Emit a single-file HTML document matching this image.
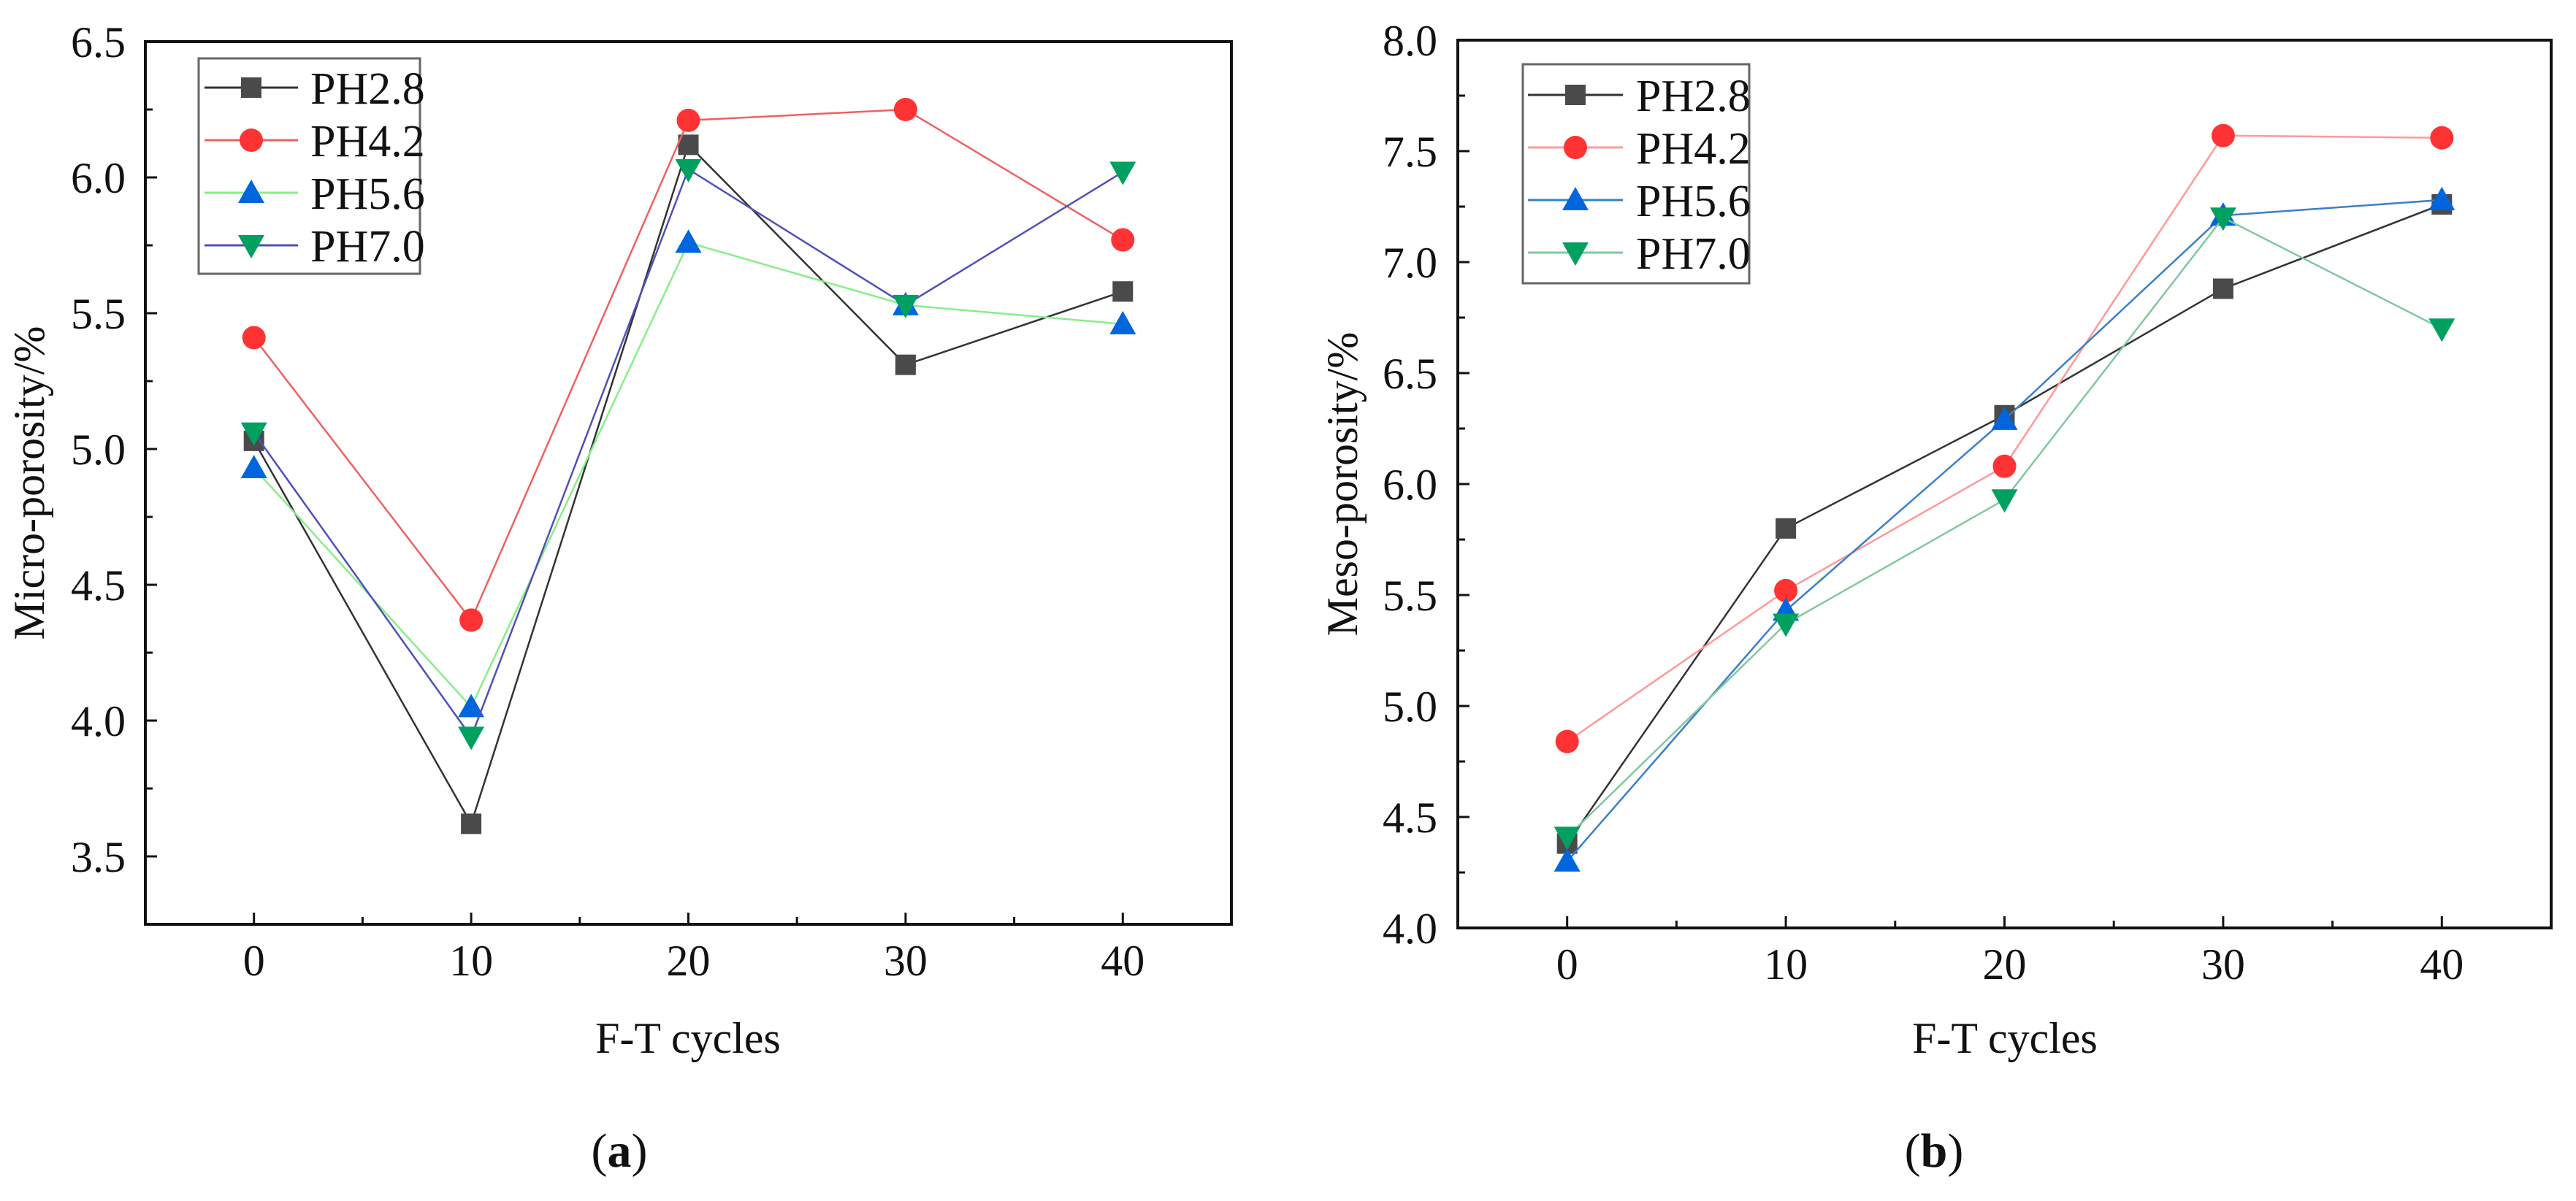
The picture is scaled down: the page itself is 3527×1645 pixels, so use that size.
<!DOCTYPE html>
<html><head><meta charset="utf-8"><style>
html,body{margin:0;padding:0;background:#fff;}
svg{display:block;}
svg text{font-family:"Liberation Serif",serif;}
</style></head><body>
<svg id="svg" width="3527" height="1645" viewBox="0 0 3527 1645" xmlns="http://www.w3.org/2000/svg" font-family="Liberation Serif, serif"></svg>
<script>
const xCats = [0, 10, 20, 30, 40];
const seriesNames = ["PH2.8", "PH4.2", "PH5.6", "PH7.0"];
const microPH28 = [5.03, 3.62, 6.12, 5.31, 5.58];
const microPH42 = [5.41, 4.37, 6.21, 6.25, 5.77];
const microPH56 = [4.93, 4.05, 5.76, 5.53, 5.46];
const microPH70 = [5.06, 3.94, 6.03, 5.53, 6.02];
const mesoPH28 = [4.38, 5.80, 6.31, 6.88, 7.26];
const mesoPH42 = [4.84, 5.52, 6.08, 7.57, 7.56];
const mesoPH56 = [4.30, 5.43, 6.29, 7.21, 7.28];
const mesoPH70 = [4.41, 5.37, 5.93, 7.20, 6.70];
const microTicks = ["3.5", "4.0", "4.5", "5.0", "5.5", "6.0", "6.5"];
const mesoTicks = ["4.0", "4.5", "5.0", "5.5", "6.0", "6.5", "7.0", "7.5", "8.0"];

const NS = "http://www.w3.org/2000/svg";
const svg = document.getElementById("svg");
const FF = '"Liberation Serif", serif';
function mk(tag, attrs, parent, text) {
  const e = document.createElementNS(NS, tag);
  for (const k in attrs) e.setAttribute(k, attrs[k]);
  if (tag === "text") e.style.fontFamily = FF;
  if (text !== undefined) e.textContent = text;
  (parent || svg).appendChild(e);
  return e;
}
function marker(g, shape, cx, cy, fill) {
  let e;
  if (shape === "square") e = mk("rect", {x: cx - 14, y: cy - 14, width: 28, height: 28, fill: fill}, g);
  else if (shape === "circle") e = mk("circle", {cx: cx, cy: cy, r: 16, fill: fill}, g);
  else if (shape === "up") e = mk("polygon", {points: `${cx},${cy-18} ${cx+18},${cy+14} ${cx-18},${cy+14}`, fill: fill}, g);
  else e = mk("polygon", {points: `${cx},${cy+18} ${cx+18},${cy-14} ${cx-18},${cy-14}`, fill: fill}, g);
  return e;
}

function drawChart(cfg) {
  const g = mk("g", {});
  
  
  const {L, R, T, B, ymin, ymax} = cfg;
  const xs = v => L + (v - (-5)) / 50 * (R - L);
  const ys = v => B - (v - ymin) / (ymax - ymin) * (B - T);
  for (let v = 0; v <= 40; v += 5) {
    const len = v % 10 === 0 ? 16 : 10;
    const t = mk("line", {x1: xs(v), x2: xs(v), y1: B, y2: B - len, stroke: "#111", "stroke-width": 3}, g);
    
    
  }
  xCats.forEach(v => {
    const t = mk("text", {x: xs(v), y: B + 70, "font-size": 60, "text-anchor": "middle", fill: "#111"}, g, String(v));
    
    
  });
  for (let v = ymin; v <= ymax + 1e-9; v += 0.25) {
    const major = Math.abs(v * 2 - Math.round(v * 2)) < 1e-6;
    const t = mk("line", {x1: L, x2: L + (major ? 16 : 10), y1: ys(v), y2: ys(v), stroke: "#111", "stroke-width": 3}, g);
    
    
  }
  cfg.ticks.forEach(s => {
    const t = mk("text", {x: cfg.labelRight, y: ys(parseFloat(s)) + 21, "font-size": 60, "text-anchor": "end", fill: "#111"}, g, s);
    
    
  });
  const frame = mk("rect", {x: L, y: T, width: R - L, height: B - T, fill: "none", stroke: "#111", "stroke-width": 4}, g);
  
  
  cfg.series.forEach((s, i) => {
    const sg = mk("g", {}, g);
    
    
    const pts = s.data.map((v, j) => xs(xCats[j]) + "," + ys(v)).join(" ");
    const pl = mk("polyline", {points: pts, fill: "none", stroke: s.line, "stroke-width": 2.5}, sg);
    
    
    s.data.forEach((v, j) => {
      const m = marker(sg, s.shape, xs(xCats[j]), ys(v), s.fill);
      
      
    });
  });
  const lg = mk("g", {}, g);
  
  
  const lb = cfg.legend;
  mk("rect", {x: lb.x, y: lb.y, width: lb.w, height: lb.h, fill: "#fff", stroke: "#666", "stroke-width": 3}, lg);
  cfg.series.forEach((s, i) => {
    const ey = lb.row0 + i * lb.dy;
    const eg = mk("g", {}, lg);
    
    
    mk("line", {x1: lb.lx1, x2: lb.lx2, y1: ey, y2: ey, stroke: s.line, "stroke-width": 3}, eg);
    marker(eg, s.shape, (lb.lx1 + lb.lx2) / 2, ey, s.fill);
    mk("text", {x: lb.tx, y: ey + 22, "font-size": 62, fill: "#111"}, eg, seriesNames[i]);
  });
  const xt = mk("text", {x: cfg.xTitleX, y: 1442, "font-size": 60, "text-anchor": "middle", fill: "#111"}, g, "F-T cycles");
  
  
  const yt = mk("text", {x: 0, y: 0, "font-size": 60, "text-anchor": "middle", fill: "#111", transform: `translate(${cfg.yTitleX},${(T + B) / 2}) rotate(-90)`}, g, cfg.yTitle);
  
  
  const cap = mk("text", {x: cfg.capX, y: 1598, "font-size": 66, "text-anchor": "middle", fill: "#111"}, g);
  
  
  mk("tspan", {}, cap, "(");
  mk("tspan", {"font-weight": "bold"}, cap, cfg.cap);
  mk("tspan", {}, cap, ")");
}

drawChart({
  name: "chart-a-micro-porosity", L: 199, R: 1686, T: 57, B: 1266, ymin: 3.25, ymax: 6.5,
  ticks: microTicks, labelRight: 172, xTitleX: 942, yTitleX: 60, yTitle: "Micro-porosity/%",
  capX: 848, cap: "a",
  legend: {x: 272, y: 80, w: 303, h: 295, row0: 120, dy: 72, lx1: 280, lx2: 408, tx: 425},
  series: [
    {data: microPH28, line: "#333", fill: "#4a4a4a", shape: "square"},
    {data: microPH42, line: "#f06060", fill: "#ff3333", shape: "circle"},
    {data: microPH56, line: "#88ee88", fill: "#0066dd", shape: "up"},
    {data: microPH70, line: "#5050b8", fill: "#00a060", shape: "down"}
  ]
});
drawChart({
  name: "chart-b-meso-porosity", L: 1996, R: 3493, T: 55, B: 1271, ymin: 4.0, ymax: 8.0,
  ticks: mesoTicks, labelRight: 1968, xTitleX: 2745, yTitleX: 1858, yTitle: "Meso-porosity/%",
  capX: 2648, cap: "b",
  legend: {x: 2085, y: 88, w: 310, h: 300, row0: 130, dy: 72, lx1: 2092, lx2: 2222, tx: 2240},
  series: [
    {data: mesoPH28, line: "#333", fill: "#4a4a4a", shape: "square"},
    {data: mesoPH42, line: "#ff9999", fill: "#ff3333", shape: "circle"},
    {data: mesoPH56, line: "#3a7fc8", fill: "#0066dd", shape: "up"},
    {data: mesoPH70, line: "#80c8a0", fill: "#00a060", shape: "down"}
  ]
});
</script>
</body></html>
